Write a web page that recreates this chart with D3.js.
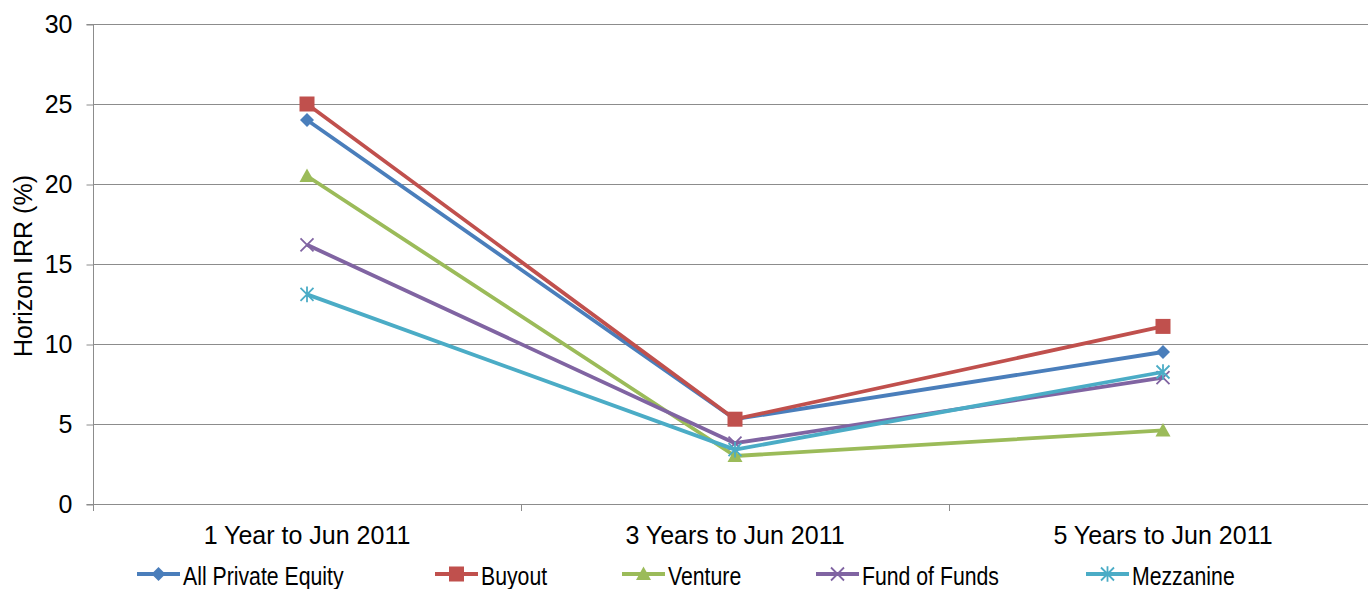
<!DOCTYPE html>
<html>
<head>
<meta charset="utf-8">
<script src="https://cdn.jsdelivr.net/npm/d3@7"></script>
<style>
  html, body { margin: 0; padding: 0; background: #fff; }
  svg { display: block; font-family: "Liberation Sans", Arial, sans-serif; }
</style>
</head>
<body>
<svg id="chart" width="1368" height="589"></svg>
<script>
// Horizon IRR by period, per fund type
const categories = ["1 Year to Jun 2011", "3 Years to Jun 2011", "5 Years to Jun 2011"];
const seriesNames = ["All Private Equity", "Buyout", "Venture", "Fund of Funds", "Mezzanine"];
const allPrivateEquity = [24.0, 5.3, 9.5];
const buyout = [25.0, 5.3, 11.1];
const venture = [20.5, 3.0, 4.6];
const fundOfFunds = [16.2, 3.8, 7.9];
const mezzanine = [13.1, 3.4, 8.25];
const yTicks = [0, 5, 10, 15, 20, 25, 30];

const colors = ["#4A7EBB", "#C0504D", "#9BBB59", "#8064A2", "#4BACC6"];
const markers = ["diamond", "square", "triangle", "cross", "asterisk"];
const seriesValues = [allPrivateEquity, buyout, venture, fundOfFunds, mezzanine];

const series = seriesNames.map((name, i) => ({
  name, color: colors[i], marker: markers[i],
  values: seriesValues[i].map((v, j) => ({ cat: categories[j], v }))
}));

const svg = d3.select("#chart");
// plot area runs slightly past the right edge of the canvas
const plotLeft = 93, plotRight = 1377, plotTop = 24, plotBottom = 504;
const fontSize = 25;

const x = d3.scaleBand().domain(categories).range([plotLeft, plotRight]);
const y = d3.scaleLinear().domain([0, 30]).range([plotBottom, plotTop]);
const cx = c => x(c) + x.bandwidth() / 2;

// gridlines
svg.append("g")
  .selectAll("line").data(yTicks.filter(t => t > 0)).join("line")
  .attr("x1", plotLeft).attr("x2", plotRight)
  .attr("y1", d => y(d) + 0.5).attr("y2", d => y(d) + 0.5)
  .attr("stroke", "#8C8C8C").attr("stroke-width", 1);

// y axis
const yAxis = svg.append("g").attr("transform", `translate(${plotLeft + 0.5},0)`)
  .call(d3.axisLeft(y).tickValues(yTicks).tickSize(7).tickPadding(14));
yAxis.select(".domain").attr("stroke", "#8C8C8C").attr("d", `M-7,${y(30)+0.5}H0V${y(0)+0.5}H-7`);
yAxis.selectAll(".tick line").attr("stroke", "#8C8C8C").attr("transform", "translate(0,0.5)");
yAxis.selectAll(".tick text").attr("font-size", fontSize).attr("fill", "#000")
  .attr("font-family", "Liberation Sans, Arial, sans-serif");

// x axis
const xAxis = svg.append("g").attr("transform", `translate(0,${plotBottom + 0.5})`)
  .call(d3.axisBottom(x).tickSize(0).tickPadding(22));
xAxis.select(".domain").attr("stroke", "#8C8C8C").attr("d", `M${plotLeft},0H${plotRight}`);
xAxis.selectAll(".tick text").attr("font-size", fontSize).attr("fill", "#000")
  .attr("font-family", "Liberation Sans, Arial, sans-serif");
// category boundary ticks
const bounds = categories.map(c => x(c)).concat([plotRight]);
svg.append("g").selectAll("line").data(bounds).join("line")
  .attr("x1", d => Math.round(d) + 0.5).attr("x2", d => Math.round(d) + 0.5)
  .attr("y1", plotBottom).attr("y2", plotBottom + 7)
  .attr("stroke", "#8C8C8C");

// y axis title
svg.append("text")
  .attr("transform", `translate(32,${(plotTop + plotBottom) / 2 + 2}) rotate(-90)`)
  .attr("text-anchor", "middle")
  .attr("font-size", fontSize).attr("fill", "#000")
  .text("Horizon IRR (%)");

function drawMarker(g, type, color, s) {
  if (type === "diamond") {
    g.append("path").attr("d", `M0,${-s}L${s},0L0,${s}L${-s},0Z`).attr("fill", color);
  } else if (type === "square") {
    g.append("rect").attr("x", -s).attr("y", -s).attr("width", 2 * s).attr("height", 2 * s).attr("fill", color);
  } else if (type === "triangle") {
    g.append("path").attr("d", `M0,${-s}L${s},${s * 0.8}L${-s},${s * 0.8}Z`).attr("fill", color);
  } else if (type === "cross") {
    g.append("path").attr("d", `M${-s},${-s}L${s},${s}M${-s},${s}L${s},${-s}`)
      .attr("stroke", color).attr("stroke-width", 1.8);
  } else if (type === "asterisk") {
    g.append("path").attr("d", `M${-s},${-s}L${s},${s}M${-s},${s}L${s},${-s}M0,${-s * 1.2}L0,${s * 1.2}`)
      .attr("stroke", color).attr("stroke-width", 1.8);
  }
}
const markerSize = { diamond: 7, square: 7.5, triangle: 7.5, cross: 6.5, asterisk: 6.5 };

const line = d3.line().x(d => cx(d.cat)).y(d => y(d.v));

series.forEach(s => {
  const g = svg.append("g");
  g.append("path").datum(s.values)
    .attr("d", line).attr("fill", "none")
    .attr("stroke", s.color).attr("stroke-width", 3.8)
    .attr("stroke-linejoin", "round");
  s.values.forEach(d => {
    const m = g.append("g").attr("transform", `translate(${cx(d.cat)},${y(d.v)})`);
    drawMarker(m, s.marker, s.color, markerSize[s.marker]);
  });
});

// legend (condensed label text)
const legendX = [137, 435, 622, 816, 1086];
const legendY = 574;
series.forEach((s, i) => {
  const g = svg.append("g").attr("transform", `translate(${legendX[i]},${legendY})`);
  g.append("line").attr("x1", 0).attr("x2", 43).attr("y1", 0).attr("y2", 0)
    .attr("stroke", s.color).attr("stroke-width", 3.8);
  const m = g.append("g").attr("transform", "translate(21.5,0)");
  drawMarker(m, s.marker, s.color, markerSize[s.marker]);
  g.append("text").attr("transform", "translate(46,11) scale(0.85,1)")
    .attr("font-size", fontSize).attr("fill", "#000").text(s.name);
});
</script>
</body>
</html>
